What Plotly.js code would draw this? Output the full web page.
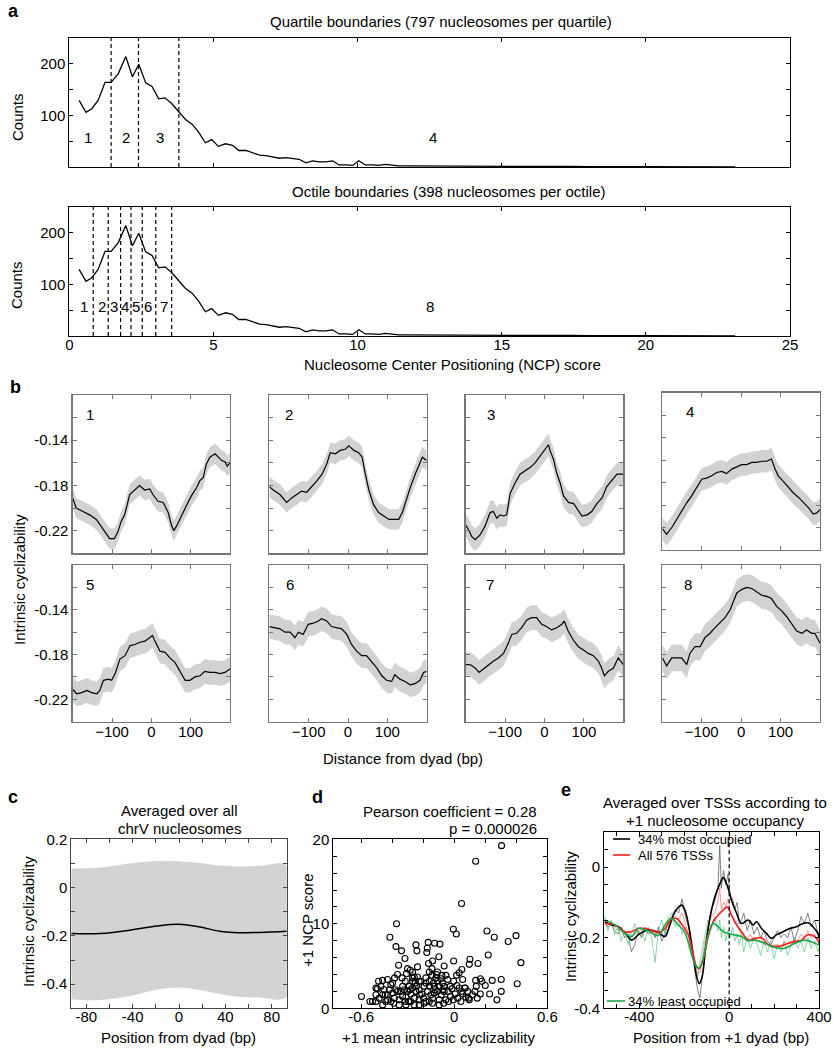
<!DOCTYPE html>
<html><head><meta charset="utf-8">
<script src="https://cdn.plot.ly/plotly-3.0.1.min.js"></script>
<style>html,body{margin:0;padding:0;background:#fff}#chart{width:833px;height:1050px}</style>
</head><body><div id="chart"></div>
<script>
// ---------------- Panel a : NCP score histogram ----------------
const ncpBins = [0.34,0.58,0.78,1.0,1.24,1.45,1.70,1.96,2.19,2.41,
  2.65,2.87,3.10,3.32,3.55,3.81,4.03,4.26,4.48,4.72,
  4.94,5.17,5.42,5.66,5.88,6.12,6.35,6.60,6.82,7.06,
  7.29,7.52,7.75,7.97,8.21,8.44,8.67,8.90,9.13,9.36,
  9.59,9.83,10.04,10.27,10.5,10.73,10.97,11.2,11.43,11.66,
  11.9,12.5,13.0,13.5,14.0,14.5,15.0,15.5,16.0,16.5,
  17.0,17.5,18.0,18.5,19.0,20.0,21.0,22.0,23.1];
const ncpCounts = [129,106,113,129,164,164,181,214,175,199,
  163,156,132,134,123,106,92,83,68,47,
  53,40,45,42,32,32,28,23,22,19,
  17,18,17,15,8,12,10,10,12,4,
  4,3,12,4,4,3,5,3,2,2,
  2,2,1,2,1,1,1,1,2,1,
  1,1,0.5,1,0.5,0.5,0.5,0.3,0.3];
const quartileBounds = [1.45, 2.40, 3.80];
const octileBounds = [0.83, 1.35, 1.78, 2.14, 2.53, 3.00, 3.55];
const quartileLabels = ['1','2','3','4'];
const quartileLabelX = [0.65, 1.97, 3.15, 12.6];
const octileLabels = ['1','2','3','4','5','6','7','8'];
const octileLabelX = [0.52, 1.12, 1.56, 1.93, 2.31, 2.72, 3.29, 12.5];
const binLabelY = 58;

// ---------------- Panel b : cyclizability per octile ----------------
const tile1Pos = [-200,-191,-174,-157,-140,-123,-106,-94,-85,-77,-68,-55,-43,-30,-17,-4,4,17,30,43,51,57,64,77,89,102,115,123,132,140,149,162,170,179,187,193,200];
const tile1Val = [-0.191,-0.2,-0.203,-0.206,-0.21,-0.218,-0.227,-0.227,-0.221,-0.212,-0.206,-0.188,-0.184,-0.18,-0.184,-0.183,-0.188,-0.194,-0.195,-0.204,-0.215,-0.22,-0.216,-0.206,-0.198,-0.189,-0.182,-0.176,-0.173,-0.161,-0.155,-0.152,-0.155,-0.158,-0.159,-0.163,-0.16];
const tile2Pos = [-200,-190,-173,-156,-143,-130,-118,-105,-92,-79,-66,-54,-45,-32,-20,-7,2,15,27,36,44,53,65,78,91,104,116,129,138,146,159,172,189,200];
const tile2Val = [-0.181,-0.184,-0.188,-0.195,-0.191,-0.188,-0.185,-0.186,-0.181,-0.176,-0.17,-0.161,-0.151,-0.152,-0.149,-0.148,-0.145,-0.149,-0.151,-0.155,-0.17,-0.184,-0.197,-0.204,-0.207,-0.21,-0.21,-0.21,-0.204,-0.195,-0.181,-0.169,-0.155,-0.158];
const tile3Pos = [-200,-193,-185,-176,-164,-151,-138,-130,-121,-113,-104,-96,-87,-75,-62,-49,-36,-24,-11,2,10,14,23,31,40,48,61,74,86,95,108,120,133,146,158,171,184,200];
const tile3Val = [-0.215,-0.219,-0.225,-0.228,-0.224,-0.216,-0.204,-0.203,-0.209,-0.206,-0.207,-0.206,-0.187,-0.178,-0.17,-0.167,-0.164,-0.16,-0.154,-0.148,-0.144,-0.149,-0.157,-0.169,-0.178,-0.189,-0.195,-0.196,-0.203,-0.207,-0.206,-0.203,-0.196,-0.191,-0.181,-0.175,-0.17,-0.17];
const tile4Pos = [-200,-189,-176,-164,-151,-138,-126,-113,-100,-88,-75,-62,-49,-37,-24,-11,1,14,27,39,52,65,77,86,94,107,120,132,145,158,170,183,192,200];
const tile4Val = [-0.221,-0.226,-0.22,-0.213,-0.205,-0.198,-0.192,-0.184,-0.177,-0.176,-0.174,-0.171,-0.17,-0.172,-0.168,-0.166,-0.164,-0.164,-0.162,-0.162,-0.161,-0.161,-0.159,-0.168,-0.174,-0.179,-0.184,-0.189,-0.193,-0.198,-0.202,-0.208,-0.207,-0.204];
const tile5Pos = [-200,-190,-177,-164,-152,-139,-131,-122,-109,-101,-92,-80,-67,-54,-42,-29,-16,-3,3,9,22,35,47,60,73,86,98,111,124,136,149,162,174,187,200];
const tile5Val = [-0.211,-0.215,-0.214,-0.212,-0.214,-0.215,-0.212,-0.203,-0.202,-0.203,-0.197,-0.184,-0.181,-0.172,-0.171,-0.169,-0.168,-0.165,-0.163,-0.168,-0.177,-0.178,-0.183,-0.187,-0.195,-0.203,-0.203,-0.2,-0.199,-0.195,-0.196,-0.196,-0.197,-0.196,-0.193];
const tile6Pos = [-200,-186,-173,-160,-147,-135,-126,-114,-101,-88,-75,-67,-54,-42,-29,-16,-3,9,22,35,47,60,73,86,98,111,119,132,145,158,170,183,192,200];
const tile6Val = [-0.155,-0.156,-0.157,-0.16,-0.16,-0.165,-0.16,-0.162,-0.153,-0.152,-0.15,-0.148,-0.15,-0.155,-0.156,-0.157,-0.162,-0.171,-0.177,-0.181,-0.181,-0.186,-0.192,-0.199,-0.203,-0.204,-0.198,-0.202,-0.204,-0.207,-0.206,-0.203,-0.196,-0.195];
const tile7Pos = [-200,-189,-176,-166,-155,-142,-130,-117,-104,-92,-83,-71,-58,-45,-33,-20,-7,5,18,31,44,50,60,73,86,99,111,124,137,145,152,162,175,187,200];
const tile7Val = [-0.189,-0.189,-0.192,-0.196,-0.193,-0.189,-0.186,-0.183,-0.179,-0.17,-0.162,-0.161,-0.156,-0.149,-0.147,-0.147,-0.153,-0.155,-0.158,-0.156,-0.153,-0.15,-0.159,-0.167,-0.173,-0.176,-0.179,-0.181,-0.186,-0.192,-0.199,-0.195,-0.192,-0.183,-0.189];
const tile8Pos = [-200,-189,-176,-164,-151,-138,-130,-117,-104,-92,-79,-66,-54,-41,-28,-20,-11,1,14,27,39,52,65,77,90,103,115,128,141,154,166,179,187,200];
const tile8Val = [-0.183,-0.19,-0.183,-0.183,-0.183,-0.189,-0.179,-0.173,-0.173,-0.165,-0.161,-0.156,-0.152,-0.147,-0.14,-0.133,-0.125,-0.122,-0.12,-0.121,-0.124,-0.127,-0.128,-0.13,-0.137,-0.141,-0.146,-0.153,-0.159,-0.161,-0.158,-0.161,-0.161,-0.17];
const tileNames = ['1','2','3','4','5','6','7','8'];
const tileSem = [0.009,0.009,0.010,0.010,0.011,0.011,0.011,0.012];
const tileLabelX = [-156,-149,-136,-131,-156,-147,-138,-134];
const tileLabelY = -0.117;

// ---------------- Panel c : average over all chrV nucleosomes ----------------
const cPos   = [-93,-68,-39,-19,0,18,35,47,70,93];
const cMean  = [-0.19,-0.19,-0.174,-0.159,-0.152,-0.163,-0.181,-0.186,-0.186,-0.181];
const cUpper = [0.079,0.083,0.102,0.110,0.109,0.102,0.092,0.088,0.09,0.091];
const cLower = [-0.463,-0.466,-0.446,-0.422,-0.414,-0.425,-0.44,-0.45,-0.455,-0.452];

// ---------------- Panel d : scatter ----------------
const meanCyc = [0.305,0.138,0.047,-0.372,-0.415,-0.006,0.013,0.211,0.258,0.398,
  0.348,-0.376,-0.34,-0.247,-0.241,-0.168,-0.127,-0.092,-0.177,-0.174,
  -0.318,-0.359,-0.099,-0.065,-0.004,0.101,0.097,0.153,0.219,0.43,
  0.406,0.303,0.303,0.275,0.245,0.228,0.2,0.178,0.168,0.138,
  0.142,0.133,0.168,0.118,0.097,0.075,0.049,0.032,0.015,0.067,
  0.047,0.017,-0.004,-0.026,-0.039,-0.024,-0.054,-0.084,-0.114,-0.108,
  -0.123,-0.14,-0.144,-0.161,-0.161,-0.183,-0.194,-0.209,-0.226,-0.237,
  -0.252,-0.269,-0.28,-0.284,-0.308,-0.316,-0.333,-0.348,-0.312,-0.312,
  -0.366,-0.385,-0.398,-0.419,-0.445,-0.462,-0.473,-0.495,-0.505,-0.484,
  -0.462,-0.527,-0.544,-0.598,-0.43,-0.387,-0.355,-0.295,-0.258,-0.222,
  -0.183,-0.151,-0.097,-0.065,-0.097,-0.075,-0.043,-0.135,-0.215,-0.29,
  -0.269,-0.226,-0.198,-0.172,-0.129,-0.108,-0.366,-0.398,-0.333,-0.247,
  -0.301,-0.452,-0.409,-0.337,-0.243,-0.144,-0.118,-0.086,-0.065,-0.015,
  0.006,0.032,0.054,0.086,0.022,0.071,0.148,0.092,-0.097,-0.037,
  -0.226,-0.161,-0.28,-0.355,-0.409,-0.505,-0.462,-0.43,-0.376,-0.269,
  -0.226,-0.161,-0.129,-0.183,-0.108,-0.08,-0.166,-0.14,-0.237,-0.269,
  -0.301,-0.258,-0.488,-0.505,-0.43,-0.075,-0.054,0.054,-0.006,0.043,
  -0.316,-0.258,-0.194,-0.14,-0.069,-0.39,-0.441,-0.323,-0.284];
const ncpScore = [19.25,17.4,12.4,10.0,8.4,9.35,8.8,9.15,8.4,8.6,
  7.9,7.3,6.8,7.5,6.8,7.8,7.7,7.6,6.6,7.1,
  5.9,5.1,6.1,5.0,5.6,5.8,5.2,5.3,6.3,5.4,
  2.9,3.4,2.0,1.0,3.3,1.7,2.7,3.2,3.5,3.3,
  2.6,2.0,1.7,1.6,1.0,1.3,4.6,4.2,3.9,2.4,
  2.0,2.7,3.2,2.6,2.0,1.4,1.0,1.6,4.0,3.2,
  2.2,1.2,4.7,4.3,3.2,3.6,2.6,1.7,1.0,3.7,
  3.0,2.4,1.7,4.5,4.1,3.2,2.6,2.0,1.3,0.4,
  4.0,3.6,3.0,2.2,1.6,3.3,2.6,2.3,1.6,1.2,
  0.4,0.8,0.8,1.4,1.0,1.2,1.0,0.8,1.2,1.6,
  0.8,1.6,1.0,2.0,2.6,3.0,3.4,3.0,3.2,2.6,
  3.6,2.2,1.2,2.0,1.8,2.0,2.0,1.8,1.4,2.0,
  2.0,2.2,2.8,3.6,2.6,3.9,3.6,3.5,2.6,2.3,
  1.7,2.4,1.7,2.0,1.2,2.4,1.2,1.2,0.4,0.8,
  0.4,0.8,0.8,0.4,0.8,0.8,1.6,1.6,2.2,3.2,
  3.2,2.6,2.6,3.0,4.3,3.9,5.3,5.6,4.9,4.3,
  4.7,3.7,3.2,2.4,3.4,2.2,3.9,3.4,1.0,0.8,
  0.8,0.4,0.6,0.6,0.6,0.6,0.8,2.2,2.2];

// ---------------- Panel e : TSS averages ----------------
const eRawPos = [-555,-540,-525,-510,-495,-480,-465,-450,-435,-420,-405,-390,-375,-360,-345,-330,-315,-300,-285,-270,
  -255,-240,-225,-210,-195,-180,-165,-150,-140,-130,-120,-110,-95,-80,-65,-50,-42,-35,-25,-15,
  -5,5,15,25,35,45,55,65,80,95,110,125,140,155,170,185,200,215,230,245,
  260,275,290,305,320,335,350,365,380,395,401];
const mostRaw = [-0.15,-0.17,-0.16,-0.18,-0.19,-0.17,-0.20,-0.19,-0.24,-0.22,-0.18,-0.20,-0.17,-0.19,-0.18,-0.20,-0.17,-0.21,-0.19,-0.15,
  -0.14,-0.12,-0.13,-0.09,-0.14,-0.17,-0.24,-0.30,-0.35,-0.37,-0.31,-0.25,-0.17,-0.12,-0.10,-0.06,0.06,-0.06,-0.01,-0.05,
  -0.02,-0.09,-0.09,-0.12,-0.10,-0.16,-0.15,-0.13,-0.18,-0.15,-0.19,-0.17,-0.20,-0.18,-0.21,-0.22,-0.20,-0.18,-0.20,-0.19,
  -0.20,-0.17,-0.21,-0.18,-0.14,-0.16,-0.13,-0.17,-0.15,-0.19,-0.20];
const allRaw = [-0.16,-0.17,-0.16,-0.17,-0.18,-0.17,-0.19,-0.18,-0.20,-0.19,-0.17,-0.18,-0.17,-0.18,-0.18,-0.19,-0.18,-0.19,-0.18,-0.16,
  -0.14,-0.14,-0.15,-0.13,-0.16,-0.19,-0.24,-0.28,-0.30,-0.30,-0.27,-0.22,-0.17,-0.14,-0.13,-0.10,-0.06,-0.12,-0.10,-0.11,
  -0.09,-0.13,-0.14,-0.15,-0.16,-0.18,-0.19,-0.19,-0.21,-0.19,-0.21,-0.20,-0.20,-0.22,-0.22,-0.23,-0.22,-0.22,-0.23,-0.21,
  -0.22,-0.21,-0.22,-0.21,-0.19,-0.20,-0.18,-0.20,-0.19,-0.21,-0.22];
const leastRaw = [-0.14,-0.18,-0.15,-0.19,-0.17,-0.21,-0.18,-0.22,-0.19,-0.16,-0.19,-0.17,-0.21,-0.17,-0.20,-0.27,-0.18,-0.15,-0.19,-0.14,
  -0.13,-0.17,-0.15,-0.19,-0.17,-0.23,-0.25,-0.29,-0.31,-0.27,-0.24,-0.20,-0.15,-0.17,-0.14,-0.18,-0.15,-0.20,-0.17,-0.21,
  -0.18,-0.20,-0.17,-0.21,-0.19,-0.22,-0.19,-0.24,-0.20,-0.23,-0.20,-0.22,-0.25,-0.21,-0.24,-0.21,-0.26,-0.22,-0.24,-0.21,
  -0.25,-0.22,-0.20,-0.23,-0.21,-0.24,-0.20,-0.23,-0.21,-0.24,-0.22];
const mostPos = [-553,-523,-493,-456,-434,-404,-360,-316,-286,-264,-241,-212,-197,-178,-160,-145,-133,-120,-105,-86,
  -64,-41,-27,-15,0,13,33,55,84,107,121,144,166,188,210,240,270,299,329,351,373,396,401];
const mostSmooth = [-0.155,-0.164,-0.169,-0.192,-0.207,-0.192,-0.178,-0.185,-0.197,-0.164,-0.127,-0.108,-0.122,-0.174,-0.249,-0.31,-0.33,-0.31,-0.23,-0.146,
  -0.085,-0.047,-0.03,-0.042,-0.07,-0.099,-0.131,-0.16,-0.15,-0.164,-0.155,-0.174,-0.188,-0.202,-0.192,-0.183,-0.174,-0.169,-0.16,-0.158,-0.169,-0.19,-0.205];
const allPos = [-553,-508,-464,-434,-404,-360,-316,-286,-256,-234,-209,-182,-160,-145,-133,-116,-93,-71,-49,-27,
  -9,10,33,55,84,114,144,173,203,232,262,292,321,351,381,401];
const allSmooth = [-0.16,-0.164,-0.183,-0.183,-0.174,-0.176,-0.185,-0.174,-0.148,-0.146,-0.164,-0.192,-0.249,-0.282,-0.288,-0.263,-0.197,-0.155,-0.136,-0.122,
  -0.113,-0.136,-0.164,-0.183,-0.207,-0.202,-0.2,-0.219,-0.225,-0.223,-0.216,-0.211,-0.207,-0.192,-0.197,-0.216];
const leastPos = [-553,-508,-464,-434,-404,-360,-316,-286,-256,-227,-205,-182,-160,-145,-133,-116,-93,-71,-49,-27,
  -4,18,55,84,114,159,203,247,292,336,381,401];
const leastSmooth = [-0.15,-0.164,-0.188,-0.197,-0.174,-0.181,-0.194,-0.164,-0.146,-0.164,-0.178,-0.211,-0.263,-0.282,-0.286,-0.258,-0.192,-0.16,-0.169,-0.183,
  -0.188,-0.192,-0.197,-0.209,-0.207,-0.216,-0.228,-0.23,-0.216,-0.207,-0.216,-0.221];
const eLegendLabels = ['34% most occupied', 'All 576 TSSs', '34% least occupied'];

// ================= build figure =================
const W = 833, H = 1050;
const FONT = 'Liberation Sans, Arial, sans-serif';
const FS = 15;
const dX = (a, b) => [a / W, b / W];
const dY = (top, bot) => [1 - bot / H, 1 - top / H];
const pX = v => v / W;
const pY = v => 1 - v / H;
const sfx = i => (i === 1 ? '' : String(i));

function axis(extra) {
  return Object.assign({
    showline: true, linecolor: '#000', linewidth: 1, mirror: 'ticks',
    ticks: 'inside', ticklen: 4, tickcolor: '#000', tickwidth: 1,
    zeroline: false, showgrid: false, fixedrange: true,
    tickfont: {family: FONT, size: FS, color: '#000'}
  }, extra);
}

const traces = [];
const layout = {
  width: W, height: H, margin: {l: 0, r: 0, t: 0, b: 0},
  paper_bgcolor: '#fff', plot_bgcolor: 'rgba(0,0,0,0)', showlegend: false,
  font: {family: FONT, size: FS, color: '#000'},
  shapes: [], annotations: []
};
function note(text, x, y, opts) {
  layout.annotations.push(Object.assign({
    text: text, x: pX(x), y: pY(y), xref: 'paper', yref: 'paper',
    showarrow: false, xanchor: 'center', yanchor: 'middle',
    font: {family: FONT, size: FS, color: '#000'}
  }, opts || {}));
}

// ---- Panel a
const aBoxes = [[38, 167], [207, 336]];
[1, 2].forEach((k, idx) => {
  const s = sfx(k);
  layout['xaxis' + s] = axis({domain: dX(69.3, 790), range: [0, 25], anchor: 'y' + s,
    tickvals: [0, 5, 10, 15, 20, 25], showticklabels: k === 2, ticklabelstandoff: -5});
  layout['yaxis' + s] = axis({domain: dY(aBoxes[idx][0], aBoxes[idx][1]), range: [0, 250], anchor: 'x' + s,
    tickvals: [50, 100, 150, 200], ticktext: ['', '100', '', '200']});
  traces.push({type: 'scatter', mode: 'lines', x: ncpBins, y: ncpCounts, xaxis: 'x' + s, yaxis: 'y' + s,
    line: {color: '#000', width: 1.3}, hoverinfo: 'skip'});
  const bounds = k === 1 ? quartileBounds : octileBounds;
  bounds.forEach(b => layout.shapes.push({type: 'line', xref: 'x' + s, yref: 'y' + s + ' domain',
    x0: b, x1: b, y0: 0, y1: 1, line: {color: '#000', width: 1.2, dash: '4px,3px'}}));
  const labs = k === 1 ? quartileLabels : octileLabels;
  const labX = k === 1 ? quartileLabelX : octileLabelX;
  labs.forEach((t, i) => layout.annotations.push({text: t, x: labX[i], y: binLabelY, xref: 'x' + s, yref: 'y' + s,
    showarrow: false, font: {family: FONT, size: FS, color: '#000'}}));
});
note('Quartile boundaries (797 nucleosomes per quartile)', 441, 22);
note('Octile boundaries (398 nucleosomes per octile)', 449, 191);
note('Counts', 17, 117, {textangle: -90});
note('Counts', 17, 285, {textangle: -90});
note('Nucleosome Center Positioning (NCP) score', 452, 364);
note('<b>a</b>', 13, 11, {font: {family: FONT, size: 18, color: '#000'}});

// ---- Panel b
const tilePos = [tile1Pos, tile2Pos, tile3Pos, tile4Pos, tile5Pos, tile6Pos, tile7Pos, tile8Pos];
const tileVal = [tile1Val, tile2Val, tile3Val, tile4Val, tile5Val, tile6Val, tile7Val, tile8Val];
const tileCols = [[72.7, 230], [269.3, 426.7], [465.7, 623.3], [662.3, 820]];
const tileRows = [[395, 553.3], [565, 721.7]];
tileNames.forEach((name, i) => {
  const k = 3 + i, s = sfx(k);
  const col = tileCols[i % 4];
  let row = tileRows[Math.floor(i / 4)];
  if (i === 3) row = [392.7, 550];
  const bottomRow = i >= 4, firstCol = i % 4 === 0;
  const frame = {linecolor: '#777', tickcolor: '#777', linewidth: 1.3};
  layout['xaxis' + s] = axis(Object.assign({domain: dX(col[0], col[1]), range: [-200, 200], anchor: 'y' + s,
    tickvals: [-100, 0, 100], showticklabels: bottomRow, ticklabelstandoff: -4}, frame));
  layout['yaxis' + s] = axis(Object.assign({domain: dY(row[0], row[1]), range: [-0.24, -0.10], anchor: 'x' + s,
    tickvals: [-0.22, -0.20, -0.18, -0.16, -0.14, -0.12], ticktext: ['-0.22', '', '-0.18', '', '-0.14', ''],
    showticklabels: firstCol}, frame));
  const pos = tilePos[i], val = tileVal[i];
  const up = val.map(v => v + tileSem[i]);
  const lo = val.map(v => v - tileSem[i]);
  traces.push({type: 'scatter', mode: 'lines', x: pos.concat(pos.slice().reverse()), y: up.concat(lo.slice().reverse()),
    fill: 'toself', fillcolor: '#d2d2d2', line: {width: 0}, xaxis: 'x' + s, yaxis: 'y' + s, hoverinfo: 'skip'});
  traces.push({type: 'scatter', mode: 'lines', x: pos, y: val, line: {color: '#000', width: 1.2},
    xaxis: 'x' + s, yaxis: 'y' + s, hoverinfo: 'skip'});
  layout.annotations.push({text: name, x: tileLabelX[i], y: tileLabelY, xref: 'x' + s, yref: 'y' + s,
    showarrow: false, font: {family: FONT, size: FS, color: '#000'}});
});
note('Intrinsic cyclizability', 19, 580, {textangle: -90});
note('Distance from dyad (bp)', 403, 758);
note('<b>b</b>', 15, 387, {font: {family: FONT, size: 18, color: '#000'}});

// ---- Panel c (axis 11)
layout.xaxis11 = axis({domain: dX(71.3, 286.7), range: [-93, 93], anchor: 'y11', linecolor: '#444', tickcolor: '#444',
  tickvals: [-80, -60, -40, -20, 0, 20, 40, 60, 80], ticktext: ['-80', '', '-40', '', '0', '', '40', '', '80'],
  ticklabelstandoff: -5});
layout.yaxis11 = axis({domain: dY(839.3, 1008.3), range: [-0.5, 0.2], anchor: 'x11', linecolor: '#444', tickcolor: '#444',
  tickvals: [-0.5, -0.4, -0.3, -0.2, -0.1, 0, 0.1, 0.2], ticktext: ['', '-0.4', '', '-0.2', '', '0', '', '0.2']});
traces.push({type: 'scatter', mode: 'lines', x: cPos.concat(cPos.slice().reverse()),
  y: cUpper.concat(cLower.slice().reverse()), fill: 'toself', fillcolor: '#d3d3d3',
  line: {width: 0, shape: 'spline'}, xaxis: 'x11', yaxis: 'y11', hoverinfo: 'skip'});
traces.push({type: 'scatter', mode: 'lines', x: cPos, y: cMean, line: {color: '#000', width: 1.5, shape: 'spline'},
  xaxis: 'x11', yaxis: 'y11', hoverinfo: 'skip'});
note('Averaged over all', 179, 810);
note('chrV nucleosomes', 179, 828);
note('Intrinsic cyclizability', 29, 922, {textangle: -90});
note('Position from dyad (bp)', 178.5, 1037);
note('<b>c</b>', 13, 797, {font: {family: FONT, size: 18, color: '#000'}});

// ---- Panel d (axis 12)
layout.xaxis12 = axis({domain: dX(333.3, 547.3), range: [-0.78, 0.6], anchor: 'y12', ticklabelstandoff: -5,
  tickvals: [-0.6, -0.4, -0.2, 0, 0.2, 0.4, 0.6], ticktext: ['-0.6', '', '', '0', '', '', '0.6']});
layout.yaxis12 = axis({domain: dY(839.3, 1008.3), range: [0, 20], anchor: 'x12',
  tickvals: [0, 2, 4, 6, 8, 10, 12, 14, 16, 18, 20], ticktext: ['0', '', '', '', '', '10', '', '', '', '', '20']});
traces.push({type: 'scatter', mode: 'markers', x: meanCyc, y: ncpScore, xaxis: 'x12', yaxis: 'y12',
  marker: {symbol: 'circle-open', size: 6, color: '#000', line: {width: 1.1, color: '#000'}}, hoverinfo: 'skip', cliponaxis: false});
note('Pearson coefficient = 0.28', 539, 811, {xanchor: 'right'});
note('p = 0.000026', 539, 828, {xanchor: 'right'});
note('+1 NCP score', 307, 920, {textangle: -90});
note('+1 mean intrinsic cyclizability', 438, 1037);
note('<b>d</b>', 317, 797, {font: {family: FONT, size: 18, color: '#000'}});

// ---- Panel e (axis 13)
layout.xaxis13 = axis({domain: dX(604, 819.3), range: [-557, 401], anchor: 'y13', ticklabelstandoff: -5,
  tickvals: [-500, -400, -300, -200, -100, 0, 100, 200, 300, 400], ticktext: ['', '-400', '', '', '', '0', '', '', '', '400']});
layout.yaxis13 = axis({domain: dY(831.7, 1008.3), range: [-0.4, 0.1], anchor: 'x13',
  tickvals: [-0.4, -0.35, -0.3, -0.25, -0.2, -0.15, -0.1, -0.05, 0, 0.05, 0.1],
  ticktext: ['-0.4', '', '', '', '-0.2', '', '', '', '0', '', '']});
const eSeries = [
  [mostRaw, 'rgba(90,90,90,0.75)', mostPos, mostSmooth, '#000'],
  [allRaw, 'rgba(255,120,120,0.75)', allPos, allSmooth, '#ff1a1a'],
  [leastRaw, 'rgba(60,190,110,0.6)', leastPos, leastSmooth, '#1aa84a']
];
eSeries.forEach(sr => traces.push({type: 'scatter', mode: 'lines', x: eRawPos, y: sr[0],
  line: {color: sr[1], width: 1}, xaxis: 'x13', yaxis: 'y13', hoverinfo: 'skip'}));
eSeries.forEach(sr => traces.push({type: 'scatter', mode: 'lines', x: sr[2], y: sr[3],
  line: {color: sr[4], width: 1.6, shape: 'spline', smoothing: 1}, xaxis: 'x13', yaxis: 'y13', hoverinfo: 'skip'}));
layout.shapes.push({type: 'line', xref: 'x13', yref: 'y13 domain', x0: 0, x1: 0, y0: 0, y1: 1,
  line: {color: '#000', width: 1.2, dash: '4px,3px'}});
// legend (drawn manually)
const legItems = [[613, 630, 839, '#000', 636], [613, 630, 855, '#ff1a1a', 636], [607, 625, 1001, '#1aa84a', 626]];
legItems.forEach((it, i) => {
  layout.shapes.push({type: 'line', xref: 'paper', yref: 'paper', x0: pX(it[0]), x1: pX(it[1]), y0: pY(it[2]), y1: pY(it[2]),
    line: {color: it[3], width: 1.6}});
  note(eLegendLabels[i], it[4], it[2], {xanchor: 'left', font: {family: FONT, size: 13, color: '#000'}});
});
note('Averaged over TSSs according to', 715, 802);
note('+1 nucleosome occupancy', 715, 820);
note('Intrinsic cyclizability', 570, 917, {textangle: -90});
note('Position from +1 dyad (bp)', 721, 1037);
note('<b>e</b>', 566, 790, {font: {family: FONT, size: 18, color: '#000'}});

Plotly.newPlot('chart', traces, layout, {staticPlot: true, displayModeBar: false});
</script>
</body></html>
